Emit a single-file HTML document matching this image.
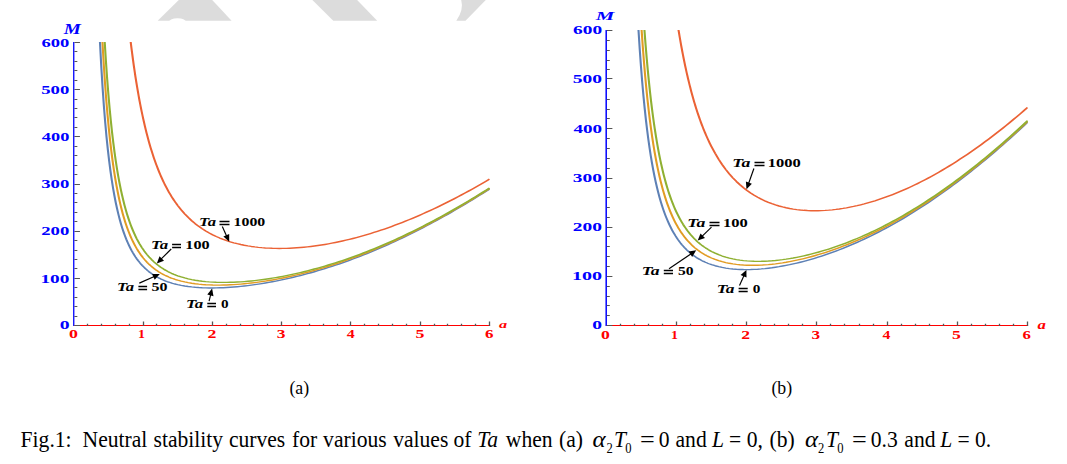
<!DOCTYPE html>
<html><head><meta charset="utf-8"><title>Fig.1</title>
<style>
html,body{margin:0;padding:0;background:#fff;}
body{width:1067px;height:464px;overflow:hidden;position:relative;font-family:"Liberation Serif",serif;}
svg{position:absolute;left:0;top:0;font-family:"Liberation Serif",serif;}
</style></head><body>
<svg width="1067" height="464" viewBox="0 0 1067 464">
<g fill="#dcdcdc">
<polygon points="178.8,0 212.2,0 231.6,20.7 157.7,20.7"/>
<polygon points="312.4,0 357.1,0 377.2,20.7 333.3,20.7"/>
<path d="M461.2,0 L485.8,0 L465.5,20.7 L456.3,20.7 Q464,10 461.2,0 Z"/>
</g>
<ellipse cx="177.5" cy="22.5" rx="9" ry="4.3" fill="#fff"/>
<clipPath id="cL"><rect x="73.75" y="42.00" width="416.10" height="283.50"/></clipPath>
<g fill="none" stroke-width="1.4" stroke-linejoin="round" clip-path="url(#cL)">
<g transform="translate(73.75,0) scale(1.5,1)">
<path d="M17.46,41.56 L18.34,66.23 L19.22,87.59 L20.10,106.21 L20.98,122.53 L21.85,136.92 L22.73,149.67 L23.61,161.02 L24.49,171.16 L25.37,180.26 L26.25,188.46 L27.13,195.86 L28.00,202.58 L28.88,208.69 L29.76,214.26 L30.64,219.35 L31.52,224.01 L32.40,228.30 L33.28,232.24 L34.16,235.88 L35.03,239.25 L35.91,242.36 L36.79,245.25 L37.67,247.93 L38.55,250.43 L39.43,252.75 L40.31,254.92 L41.18,256.95 L42.06,258.84 L42.94,260.62 L43.82,262.28 L44.70,263.84 L45.58,265.30 L46.46,266.68 L47.33,267.97 L48.21,269.19 L49.09,270.34 L49.97,271.42 L50.85,272.44 L51.73,273.40 L52.61,274.31 L53.48,275.17 L54.36,275.98 L55.24,276.75 L56.12,277.47 L57.00,278.16 L57.88,278.81 L58.76,279.42 L59.64,280.00 L60.51,280.55 L61.39,281.07 L62.27,281.56 L63.15,282.02 L64.03,282.46 L64.91,282.87 L65.79,283.27 L66.66,283.64 L67.54,283.98 L68.42,284.31 L69.30,284.62 L71.64,285.36 L73.97,285.98 L76.31,286.50 L78.64,286.93 L80.98,287.27 L83.32,287.54 L85.65,287.74 L87.99,287.87 L90.32,287.94 L92.66,287.95 L95.00,287.91 L97.33,287.82 L99.67,287.69 L102.00,287.51 L104.34,287.28 L106.68,287.02 L109.01,286.71 L111.35,286.37 L113.68,285.99 L116.02,285.58 L118.36,285.13 L120.69,284.65 L123.03,284.13 L125.36,283.58 L127.70,283.01 L130.03,282.39 L132.37,281.75 L134.71,281.08 L137.04,280.38 L139.38,279.64 L141.71,278.88 L144.05,278.09 L146.39,277.27 L148.72,276.42 L151.06,275.54 L153.39,274.63 L155.73,273.69 L158.07,272.73 L160.40,271.74 L162.74,270.72 L165.07,269.67 L167.41,268.59 L169.75,267.49 L172.08,266.35 L174.42,265.20 L176.75,264.01 L179.09,262.79 L181.43,261.55 L183.76,260.29 L186.10,258.99 L188.43,257.67 L190.77,256.32 L193.11,254.94 L195.44,253.54 L197.78,252.12 L200.11,250.66 L202.45,249.18 L204.79,247.68 L207.12,246.14 L209.46,244.59 L211.79,243.00 L214.13,241.40 L216.47,239.76 L218.80,238.10 L221.14,236.42 L223.47,234.71 L225.81,232.98 L228.14,231.23 L230.48,229.44 L232.82,227.64 L235.15,225.81 L237.49,223.96 L239.82,222.08 L242.16,220.18 L244.50,218.26 L246.83,216.31 L249.17,214.34 L251.50,212.35 L253.84,210.33 L256.18,208.30 L258.51,206.23 L260.85,204.15 L263.18,202.05 L265.52,199.92 L267.86,197.77 L270.19,195.60 L272.53,193.40 L274.86,191.19 L277.20,188.95" stroke="#5E81B5"/>
<path d="M19.12,41.56 L19.97,63.43 L20.82,82.68 L21.67,99.69 L22.52,114.82 L23.37,128.31 L24.22,140.41 L25.07,151.29 L25.92,161.11 L26.77,170.01 L27.62,178.09 L28.47,185.45 L29.33,192.18 L30.18,198.34 L31.03,204.00 L31.88,209.21 L32.73,214.01 L33.58,218.44 L34.43,222.55 L35.28,226.35 L36.13,229.89 L36.98,233.18 L37.83,236.24 L38.68,239.10 L39.53,241.78 L40.38,244.28 L41.23,246.62 L42.08,248.82 L42.93,250.88 L43.78,252.81 L44.63,254.64 L45.49,256.35 L46.34,257.97 L47.19,259.50 L48.04,260.93 L48.89,262.29 L49.74,263.58 L50.59,264.79 L51.44,265.94 L52.29,267.03 L53.14,268.06 L53.99,269.04 L54.84,269.97 L55.69,270.85 L56.54,271.68 L57.39,272.47 L58.24,273.23 L59.09,273.94 L59.94,274.62 L60.79,275.26 L61.65,275.87 L62.50,276.45 L63.35,277.01 L64.20,277.53 L65.05,278.03 L65.90,278.50 L66.75,278.95 L67.60,279.38 L68.45,279.78 L69.30,280.17 L71.64,281.12 L73.97,281.94 L76.31,282.64 L78.64,283.23 L80.98,283.73 L83.32,284.14 L85.65,284.46 L87.99,284.72 L90.32,284.90 L92.66,285.02 L95.00,285.08 L97.33,285.08 L99.67,285.03 L102.00,284.93 L104.34,284.79 L106.68,284.60 L109.01,284.36 L111.35,284.09 L113.68,283.77 L116.02,283.42 L118.36,283.03 L120.69,282.60 L123.03,282.14 L125.36,281.64 L127.70,281.11 L130.03,280.55 L132.37,279.95 L134.71,279.32 L137.04,278.66 L139.38,277.97 L141.71,277.24 L144.05,276.49 L146.39,275.70 L148.72,274.89 L151.06,274.05 L153.39,273.17 L155.73,272.27 L158.07,271.34 L160.40,270.37 L162.74,269.38 L165.07,268.36 L167.41,267.32 L169.75,266.24 L172.08,265.13 L174.42,264.00 L176.75,262.84 L179.09,261.65 L181.43,260.43 L183.76,259.19 L186.10,257.92 L188.43,256.62 L190.77,255.29 L193.11,253.94 L195.44,252.56 L197.78,251.15 L200.11,249.72 L202.45,248.26 L204.79,246.77 L207.12,245.26 L209.46,243.72 L211.79,242.15 L214.13,240.56 L216.47,238.94 L218.80,237.30 L221.14,235.64 L223.47,233.94 L225.81,232.23 L228.14,230.49 L230.48,228.72 L232.82,226.93 L235.15,225.11 L237.49,223.27 L239.82,221.41 L242.16,219.52 L244.50,217.61 L246.83,215.68 L249.17,213.72 L251.50,211.74 L253.84,209.73 L256.18,207.71 L258.51,205.66 L260.85,203.59 L263.18,201.49 L265.52,199.37 L267.86,197.23 L270.19,195.07 L272.53,192.89 L274.86,190.68 L277.20,188.45" stroke="#E19C24"/>
<path d="M20.62,41.56 L21.45,61.24 L22.27,78.78 L23.10,94.46 L23.92,108.55 L24.75,121.24 L25.57,132.73 L26.40,143.15 L27.22,152.63 L28.05,161.28 L28.87,169.20 L29.70,176.46 L30.52,183.14 L31.35,189.29 L32.17,194.97 L33.00,200.23 L33.82,205.10 L34.65,209.62 L35.47,213.83 L36.30,217.75 L37.12,221.40 L37.95,224.82 L38.77,228.01 L39.60,231.00 L40.42,233.81 L41.25,236.44 L42.07,238.92 L42.90,241.25 L43.72,243.45 L44.55,245.52 L45.37,247.47 L46.20,249.31 L47.02,251.06 L47.85,252.70 L48.67,254.27 L49.50,255.74 L50.32,257.15 L51.15,258.47 L51.97,259.74 L52.80,260.93 L53.62,262.07 L54.45,263.15 L55.27,264.18 L56.10,265.16 L56.92,266.09 L57.75,266.98 L58.57,267.82 L59.40,268.62 L60.22,269.39 L61.05,270.12 L61.87,270.81 L62.70,271.48 L63.52,272.11 L64.35,272.71 L65.17,273.29 L66.00,273.83 L66.82,274.35 L67.65,274.85 L68.47,275.33 L69.30,275.78 L71.64,276.94 L73.97,277.96 L76.31,278.83 L78.64,279.59 L80.98,280.23 L83.32,280.78 L85.65,281.23 L87.99,281.60 L90.32,281.90 L92.66,282.12 L95.00,282.28 L97.33,282.37 L99.67,282.41 L102.00,282.39 L104.34,282.32 L106.68,282.21 L109.01,282.04 L111.35,281.83 L113.68,281.58 L116.02,281.28 L118.36,280.95 L120.69,280.58 L123.03,280.17 L125.36,279.72 L127.70,279.23 L130.03,278.72 L132.37,278.16 L134.71,277.58 L137.04,276.96 L139.38,276.30 L141.71,275.62 L144.05,274.90 L146.39,274.15 L148.72,273.38 L151.06,272.56 L153.39,271.72 L155.73,270.85 L158.07,269.95 L160.40,269.02 L162.74,268.06 L165.07,267.07 L167.41,266.05 L169.75,265.00 L172.08,263.92 L174.42,262.81 L176.75,261.68 L179.09,260.51 L181.43,259.32 L183.76,258.10 L186.10,256.85 L188.43,255.57 L190.77,254.27 L193.11,252.94 L195.44,251.58 L197.78,250.19 L200.11,248.78 L202.45,247.33 L204.79,245.87 L207.12,244.37 L209.46,242.85 L211.79,241.30 L214.13,239.73 L216.47,238.13 L218.80,236.50 L221.14,234.85 L223.47,233.18 L225.81,231.47 L228.14,229.75 L230.48,228.00 L232.82,226.22 L235.15,224.42 L237.49,222.59 L239.82,220.74 L242.16,218.87 L244.50,216.97 L246.83,215.05 L249.17,213.10 L251.50,211.13 L253.84,209.14 L256.18,207.12 L258.51,205.08 L260.85,203.02 L263.18,200.93 L265.52,198.83 L267.86,196.70 L270.19,194.54 L272.53,192.37 L274.86,190.17 L277.20,187.95" stroke="#8FB032"/>
<path d="M37.93,41.56 L38.46,48.00 L39.00,54.18 L39.53,60.12 L40.06,65.82 L40.59,71.30 L41.12,76.56 L41.65,81.63 L42.19,86.50 L42.72,91.20 L43.25,95.72 L43.78,100.08 L44.31,104.28 L44.84,108.33 L45.38,112.24 L45.91,116.02 L46.44,119.67 L46.97,123.19 L47.50,126.59 L48.03,129.89 L48.57,133.07 L49.10,136.15 L49.63,139.13 L50.16,142.02 L50.69,144.82 L51.22,147.53 L51.76,150.15 L52.29,152.70 L52.82,155.16 L53.35,157.56 L53.88,159.88 L54.41,162.14 L54.95,164.33 L55.48,166.45 L56.01,168.52 L56.54,170.52 L57.07,172.47 L57.60,174.37 L58.14,176.21 L58.67,178.00 L59.20,179.75 L59.73,181.44 L60.26,183.09 L60.79,184.70 L61.33,186.26 L61.86,187.79 L62.39,189.27 L62.92,190.72 L63.45,192.13 L63.98,193.50 L64.52,194.84 L65.05,196.14 L65.58,197.41 L66.11,198.65 L66.64,199.86 L67.17,201.04 L67.71,202.19 L68.24,203.31 L68.77,204.41 L69.30,205.48 L71.64,209.89 L73.97,213.87 L76.31,217.46 L78.64,220.72 L80.98,223.67 L83.32,226.35 L85.65,228.78 L87.99,231.00 L90.32,233.02 L92.66,234.85 L95.00,236.52 L97.33,238.03 L99.67,239.41 L102.00,240.66 L104.34,241.78 L106.68,242.80 L109.01,243.71 L111.35,244.52 L113.68,245.25 L116.02,245.88 L118.36,246.44 L120.69,246.92 L123.03,247.33 L125.36,247.67 L127.70,247.94 L130.03,248.15 L132.37,248.30 L134.71,248.39 L137.04,248.43 L139.38,248.41 L141.71,248.34 L144.05,248.21 L146.39,248.04 L148.72,247.82 L151.06,247.55 L153.39,247.24 L155.73,246.88 L158.07,246.48 L160.40,246.03 L162.74,245.55 L165.07,245.02 L167.41,244.45 L169.75,243.84 L172.08,243.19 L174.42,242.50 L176.75,241.77 L179.09,241.01 L181.43,240.21 L183.76,239.37 L186.10,238.49 L188.43,237.58 L190.77,236.63 L193.11,235.64 L195.44,234.62 L197.78,233.57 L200.11,232.48 L202.45,231.35 L204.79,230.20 L207.12,229.01 L209.46,227.78 L211.79,226.52 L214.13,225.23 L216.47,223.91 L218.80,222.56 L221.14,221.17 L223.47,219.75 L225.81,218.31 L228.14,216.83 L230.48,215.32 L232.82,213.77 L235.15,212.20 L237.49,210.60 L239.82,208.97 L242.16,207.31 L244.50,205.63 L246.83,203.91 L249.17,202.16 L251.50,200.39 L253.84,198.59 L256.18,196.76 L258.51,194.90 L260.85,193.02 L263.18,191.11 L265.52,189.17 L267.86,187.21 L270.19,185.22 L272.53,183.20 L274.86,181.16 L277.20,179.09" stroke="#EB6235"/>
</g></g>
<line x1="73.75" y1="42.00" x2="73.75" y2="326.00" stroke="#0000ff" stroke-width="1.3"/>
<line x1="74.35" y1="325.50" x2="490.05" y2="325.50" stroke="#ff0000" stroke-width="1"/>
<path d="M74.35,325.50h5.6 M74.35,316.50h3.0 M74.35,306.50h3.0 M74.35,297.50h3.0 M74.35,287.50h3.0 M74.35,278.50h5.6 M74.35,268.50h3.0 M74.35,259.50h3.0 M74.35,250.50h3.0 M74.35,240.50h3.0 M74.35,231.50h5.6 M74.35,221.50h3.0 M74.35,212.50h3.0 M74.35,202.50h3.0 M74.35,193.50h3.0 M74.35,184.50h5.6 M74.35,174.50h3.0 M74.35,165.50h3.0 M74.35,155.50h3.0 M74.35,146.50h3.0 M74.35,136.50h5.6 M74.35,127.50h3.0 M74.35,117.50h3.0 M74.35,108.50h3.0 M74.35,99.50h3.0 M74.35,89.50h5.6 M74.35,80.50h3.0 M74.35,70.50h3.0 M74.35,61.50h3.0 M74.35,51.50h3.0 M74.35,42.50h5.6" stroke="#555" stroke-width="1" fill="none"/>
<path d="M87.50,326.00v-2.2 M101.50,326.00v-2.2 M115.50,326.00v-2.2 M129.50,326.00v-2.2 M143.50,326.00v-4.4 M156.50,326.00v-2.2 M170.50,326.00v-2.2 M184.50,326.00v-2.2 M198.50,326.00v-2.2 M212.50,326.00v-4.4 M226.50,326.00v-2.2 M240.50,326.00v-2.2 M253.50,326.00v-2.2 M267.50,326.00v-2.2 M281.50,326.00v-4.4 M295.50,326.00v-2.2 M309.50,326.00v-2.2 M323.50,326.00v-2.2 M337.50,326.00v-2.2 M350.50,326.00v-4.4 M364.50,326.00v-2.2 M378.50,326.00v-2.2 M392.50,326.00v-2.2 M406.50,326.00v-2.2 M420.50,326.00v-4.4 M434.50,326.00v-2.2 M447.50,326.00v-2.2 M461.50,326.00v-2.2 M475.50,326.00v-2.2 M489.50,326.00v-4.4" stroke="#555" stroke-width="1.3" fill="none"/>
<text transform="translate(60.50,329.00) scale(1.6198,1)" x="-0.49" y="0" font-size="12.2" font-weight="bold" fill="#0000ff">0</text>
<text transform="translate(42.00,282.63) scale(1.5799,1)" x="-0.98" y="0" font-size="12.2" font-weight="bold" fill="#0000ff">100</text>
<text transform="translate(42.00,235.47) scale(1.5354,1)" x="-0.49" y="0" font-size="12.2" font-weight="bold" fill="#0000ff">200</text>
<text transform="translate(42.00,188.30) scale(1.5354,1)" x="-0.49" y="0" font-size="12.2" font-weight="bold" fill="#0000ff">300</text>
<text transform="translate(42.00,141.13) scale(1.5037,1)" x="-0.12" y="0" font-size="12.2" font-weight="bold" fill="#0000ff">400</text>
<text transform="translate(42.00,93.97) scale(1.5354,1)" x="-0.49" y="0" font-size="12.2" font-weight="bold" fill="#0000ff">500</text>
<text transform="translate(42.00,46.80) scale(1.5247,1)" x="-0.37" y="0" font-size="12.2" font-weight="bold" fill="#0000ff">600</text>
<text transform="translate(69.60,338.00) scale(1.4518,1)" x="-0.49" y="0" font-size="12.3" font-weight="bold" fill="#ff0000">0</text>
<text transform="translate(139.15,338.00) scale(1.1426,1)" x="-0.98" y="0" font-size="12.3" font-weight="bold" fill="#ff0000">1</text>
<text transform="translate(208.20,338.00) scale(1.4518,1)" x="-0.49" y="0" font-size="12.3" font-weight="bold" fill="#ff0000">2</text>
<text transform="translate(277.50,338.00) scale(1.4180,1)" x="-0.49" y="0" font-size="12.3" font-weight="bold" fill="#ff0000">3</text>
<text transform="translate(346.80,338.00) scale(1.2974,1)" x="-0.12" y="0" font-size="12.3" font-weight="bold" fill="#ff0000">4</text>
<text transform="translate(416.10,338.00) scale(1.4518,1)" x="-0.49" y="0" font-size="12.3" font-weight="bold" fill="#ff0000">5</text>
<text transform="translate(485.40,338.00) scale(1.3858,1)" x="-0.37" y="0" font-size="12.3" font-weight="bold" fill="#ff0000">6</text>
<text transform="translate(63.60,33.80) scale(1.3748,1)" x="0.14" y="0" font-size="14.0" font-weight="bold" fill="#0000ff" font-style="italic">M</text>
<text transform="translate(499.10,327.90) scale(1.4822,1)" x="-0.11" y="0" font-size="11" font-weight="bold" fill="#ff0000" font-style="italic">a</text>
<text transform="translate(200.20,225.50) scale(1.3859,1)" x="-0.84" y="0" font-size="12.0" font-weight="bold" font-style="italic" fill="#000">Ta</text><path d="M219.5,221.50H229.5M219.5,224.50H229.5" stroke="#000" stroke-width="1.5" fill="none"/><text transform="translate(234.80,225.50) scale(1.3209,1)" x="-0.96" y="0" font-size="12.0" font-weight="bold" fill="#000">1000</text>
<text transform="translate(152.10,248.55) scale(1.4040,1)" x="-0.84" y="0" font-size="12.0" font-weight="bold" font-style="italic" fill="#000">Ta</text><path d="M172.1,244.50H181.0M172.1,247.50H181.0" stroke="#000" stroke-width="1.5" fill="none"/><text transform="translate(186.60,248.55) scale(1.3527,1)" x="-0.96" y="0" font-size="12.0" font-weight="bold" fill="#000">100</text>
<text transform="translate(118.20,290.60) scale(1.3859,1)" x="-0.84" y="0" font-size="12.0" font-weight="bold" font-style="italic" fill="#000">Ta</text><path d="M138.4,286.50H147.1M138.4,289.50H147.1" stroke="#000" stroke-width="1.5" fill="none"/><text transform="translate(152.20,290.60) scale(1.3315,1)" x="-0.48" y="0" font-size="12.0" font-weight="bold" fill="#000">50</text>
<text transform="translate(187.10,307.60) scale(1.4040,1)" x="-0.84" y="0" font-size="12.0" font-weight="bold" font-style="italic" fill="#000">Ta</text><path d="M207.3,303.50H216.0M207.3,306.50H216.0" stroke="#000" stroke-width="1.5" fill="none"/><text transform="translate(221.60,307.60) scale(1.2698,1)" x="-0.48" y="0" font-size="12.0" font-weight="bold" fill="#000">0</text>
<line x1="222.3" y1="226.4" x2="226.7" y2="236.2" stroke="#000" stroke-width="1.15"/><polygon points="229.2,241.7 223.4,236.6 229.2,234.0" fill="#000"/>
<line x1="171.2" y1="249.0" x2="161.0" y2="259.2" stroke="#000" stroke-width="1.15"/><polygon points="156.8,263.5 159.5,256.3 164.0,260.8" fill="#000"/>
<line x1="139.3" y1="283.1" x2="154.3" y2="276.5" stroke="#000" stroke-width="1.15"/><polygon points="159.8,274.1 154.7,279.8 152.1,274.0" fill="#000"/>
<line x1="209.1" y1="301.1" x2="210.7" y2="294.4" stroke="#000" stroke-width="1.15"/><polygon points="212.1,288.6 213.5,296.2 207.3,294.6" fill="#000"/>
<clipPath id="cR"><rect x="606.2" y="30.00" width="421.68" height="295.50"/></clipPath>
<g fill="none" stroke-width="1.4" stroke-linejoin="round" clip-path="url(#cR)">
<g transform="translate(606.2,0) scale(1.5,1)">
<path d="M21.51,29.52 L22.33,48.80 L23.16,66.05 L23.98,81.55 L24.81,95.51 L25.64,108.14 L26.46,119.60 L27.29,130.03 L28.11,139.55 L28.94,148.25 L29.76,156.24 L30.59,163.58 L31.42,170.34 L32.24,176.58 L33.07,182.35 L33.89,187.70 L34.72,192.67 L35.55,197.28 L36.37,201.58 L37.20,205.59 L38.02,209.33 L38.85,212.83 L39.67,216.10 L40.50,219.17 L41.33,222.05 L42.15,224.76 L42.98,227.30 L43.80,229.69 L44.63,231.95 L45.46,234.07 L46.28,236.08 L47.11,237.97 L47.93,239.76 L48.76,241.45 L49.58,243.05 L50.41,244.56 L51.24,245.99 L52.06,247.35 L52.89,248.64 L53.71,249.86 L54.54,251.02 L55.37,252.12 L56.19,253.16 L57.02,254.15 L57.84,255.09 L58.67,255.98 L59.49,256.83 L60.32,257.63 L61.15,258.40 L61.97,259.12 L62.80,259.81 L63.62,260.47 L64.45,261.09 L65.28,261.68 L66.10,262.24 L66.93,262.77 L67.75,263.27 L68.58,263.75 L69.40,264.20 L70.23,264.63 L72.60,265.73 L74.96,266.65 L77.33,267.43 L79.70,268.07 L82.07,268.58 L84.43,268.97 L86.80,269.26 L89.17,269.46 L91.54,269.56 L93.90,269.58 L96.27,269.52 L98.64,269.39 L101.00,269.19 L103.37,268.92 L105.74,268.59 L108.11,268.19 L110.47,267.74 L112.84,267.23 L115.21,266.67 L117.58,266.05 L119.94,265.38 L122.31,264.67 L124.68,263.90 L127.05,263.08 L129.41,262.22 L131.78,261.31 L134.15,260.35 L136.51,259.35 L138.88,258.30 L141.25,257.21 L143.62,256.08 L145.98,254.90 L148.35,253.67 L150.72,252.41 L153.09,251.10 L155.45,249.75 L157.82,248.35 L160.19,246.92 L162.55,245.44 L164.92,243.92 L167.29,242.36 L169.66,240.75 L172.02,239.11 L174.39,237.42 L176.76,235.70 L179.13,233.93 L181.49,232.12 L183.86,230.27 L186.23,228.39 L188.60,226.46 L190.96,224.49 L193.33,222.48 L195.70,220.43 L198.06,218.35 L200.43,216.22 L202.80,214.05 L205.17,211.85 L207.53,209.61 L209.90,207.33 L212.27,205.01 L214.64,202.65 L217.00,200.26 L219.37,197.82 L221.74,195.36 L224.10,192.85 L226.47,190.31 L228.84,187.73 L231.21,185.11 L233.57,182.46 L235.94,179.77 L238.31,177.05 L240.68,174.29 L243.04,171.49 L245.41,168.66 L247.78,165.80 L250.15,162.90 L252.51,159.97 L254.88,157.00 L257.25,154.00 L259.61,150.97 L261.98,147.90 L264.35,144.79 L266.72,141.66 L269.08,138.49 L271.45,135.29 L273.82,132.06 L276.19,128.79 L278.55,125.49 L280.92,122.16" stroke="#5E81B5"/>
<path d="M23.58,29.52 L24.37,46.33 L25.16,61.58 L25.95,75.45 L26.74,88.10 L27.53,99.68 L28.32,110.29 L29.11,120.04 L29.91,129.02 L30.70,137.31 L31.49,144.98 L32.28,152.08 L33.07,158.68 L33.86,164.81 L34.65,170.52 L35.44,175.85 L36.23,180.82 L37.02,185.48 L37.81,189.84 L38.60,193.92 L39.39,197.76 L40.18,201.37 L40.97,204.76 L41.77,207.95 L42.56,210.97 L43.35,213.81 L44.14,216.49 L44.93,219.03 L45.72,221.43 L46.51,223.70 L47.30,225.86 L48.09,227.90 L48.88,229.83 L49.67,231.67 L50.46,233.41 L51.25,235.07 L52.04,236.65 L52.84,238.15 L53.63,239.57 L54.42,240.93 L55.21,242.22 L56.00,243.45 L56.79,244.63 L57.58,245.75 L58.37,246.81 L59.16,247.83 L59.95,248.80 L60.74,249.72 L61.53,250.60 L62.32,251.44 L63.11,252.25 L63.90,253.01 L64.70,253.74 L65.49,254.44 L66.28,255.10 L67.07,255.74 L67.86,256.34 L68.65,256.92 L69.44,257.47 L70.23,257.99 L72.60,259.41 L74.96,260.63 L77.33,261.68 L79.70,262.56 L82.07,263.30 L84.43,263.91 L86.80,264.39 L89.17,264.77 L91.54,265.04 L93.90,265.22 L96.27,265.31 L98.64,265.31 L101.00,265.24 L103.37,265.09 L105.74,264.88 L108.11,264.59 L110.47,264.24 L112.84,263.83 L115.21,263.36 L117.58,262.84 L119.94,262.26 L122.31,261.62 L124.68,260.93 L127.05,260.19 L129.41,259.40 L131.78,258.56 L134.15,257.67 L136.51,256.73 L138.88,255.75 L141.25,254.72 L143.62,253.64 L145.98,252.52 L148.35,251.35 L150.72,250.13 L153.09,248.88 L155.45,247.58 L157.82,246.23 L160.19,244.84 L162.55,243.41 L164.92,241.93 L167.29,240.41 L169.66,238.85 L172.02,237.25 L174.39,235.61 L176.76,233.92 L179.13,232.19 L181.49,230.42 L183.86,228.61 L186.23,226.75 L188.60,224.86 L190.96,222.92 L193.33,220.95 L195.70,218.93 L198.06,216.88 L200.43,214.78 L202.80,212.65 L205.17,210.47 L207.53,208.26 L209.90,206.00 L212.27,203.71 L214.64,201.38 L217.00,199.01 L219.37,196.61 L221.74,194.16 L224.10,191.68 L226.47,189.16 L228.84,186.60 L231.21,184.01 L233.57,181.38 L235.94,178.71 L238.31,176.01 L240.68,173.27 L243.04,170.50 L245.41,167.68 L247.78,164.84 L250.15,161.96 L252.51,159.04 L254.88,156.09 L257.25,153.11 L259.61,150.09 L261.98,147.04 L264.35,143.95 L266.72,140.83 L269.08,137.68 L271.45,134.49 L273.82,131.27 L276.19,128.02 L278.55,124.73 L280.92,121.41" stroke="#E19C24"/>
<path d="M25.47,29.52 L26.23,44.40 L26.99,58.05 L27.75,70.59 L28.51,82.13 L29.26,92.78 L30.02,102.63 L30.78,111.75 L31.54,120.22 L32.30,128.09 L33.06,135.42 L33.82,142.26 L34.57,148.65 L35.33,154.62 L36.09,160.22 L36.85,165.47 L37.61,170.40 L38.37,175.03 L39.13,179.39 L39.88,183.50 L40.64,187.37 L41.40,191.03 L42.16,194.49 L42.92,197.76 L43.68,200.85 L44.44,203.78 L45.20,206.56 L45.95,209.20 L46.71,211.70 L47.47,214.08 L48.23,216.34 L48.99,218.49 L49.75,220.54 L50.51,222.49 L51.26,224.35 L52.02,226.12 L52.78,227.81 L53.54,229.42 L54.30,230.96 L55.06,232.42 L55.82,233.83 L56.57,235.17 L57.33,236.45 L58.09,237.68 L58.85,238.85 L59.61,239.97 L60.37,241.04 L61.13,242.07 L61.89,243.05 L62.64,243.99 L63.40,244.89 L64.16,245.75 L64.92,246.58 L65.68,247.37 L66.44,248.13 L67.20,248.85 L67.95,249.55 L68.71,250.21 L69.47,250.85 L70.23,251.46 L72.60,253.19 L74.96,254.70 L77.33,256.01 L79.70,257.13 L82.07,258.09 L84.43,258.90 L86.80,259.58 L89.17,260.13 L91.54,260.57 L93.90,260.90 L96.27,261.14 L98.64,261.28 L101.00,261.33 L103.37,261.31 L105.74,261.20 L108.11,261.03 L110.47,260.78 L112.84,260.47 L115.21,260.09 L117.58,259.66 L119.94,259.16 L122.31,258.60 L124.68,257.99 L127.05,257.32 L129.41,256.60 L131.78,255.83 L134.15,255.01 L136.51,254.14 L138.88,253.21 L141.25,252.24 L143.62,251.22 L145.98,250.15 L148.35,249.04 L150.72,247.88 L153.09,246.67 L155.45,245.42 L157.82,244.12 L160.19,242.78 L162.55,241.39 L164.92,239.96 L167.29,238.49 L169.66,236.97 L172.02,235.40 L174.39,233.80 L176.76,232.15 L179.13,230.46 L181.49,228.72 L183.86,226.95 L186.23,225.13 L188.60,223.27 L190.96,221.37 L193.33,219.43 L195.70,217.44 L198.06,215.42 L200.43,213.35 L202.80,211.25 L205.17,209.10 L207.53,206.91 L209.90,204.69 L212.27,202.42 L214.64,200.12 L217.00,197.77 L219.37,195.39 L221.74,192.97 L224.10,190.51 L226.47,188.02 L228.84,185.48 L231.21,182.91 L233.57,180.30 L235.94,177.66 L238.31,174.97 L240.68,172.25 L243.04,169.50 L245.41,166.71 L247.78,163.88 L250.15,161.02 L252.51,158.12 L254.88,155.19 L257.25,152.22 L259.61,149.22 L261.98,146.18 L264.35,143.11 L266.72,140.00 L269.08,136.87 L271.45,133.69 L273.82,130.49 L276.19,127.25 L278.55,123.98 L280.92,120.67" stroke="#8FB032"/>
<path d="M48.16,29.52 L48.54,32.93 L48.91,36.27 L49.29,39.53 L49.66,42.72 L50.03,45.83 L50.41,48.88 L50.78,51.86 L51.16,54.77 L51.53,57.62 L51.90,60.41 L52.28,63.14 L52.65,65.81 L53.03,68.42 L53.40,70.98 L53.77,73.49 L54.15,75.94 L54.52,78.34 L54.90,80.69 L55.27,83.00 L55.64,85.25 L56.02,87.47 L56.39,89.63 L56.77,91.76 L57.14,93.84 L57.51,95.88 L57.89,97.88 L58.26,99.85 L58.64,101.77 L59.01,103.66 L59.38,105.51 L59.76,107.33 L60.13,109.11 L60.51,110.86 L60.88,112.57 L61.25,114.26 L61.63,115.91 L62.00,117.53 L62.38,119.12 L62.75,120.69 L63.12,122.22 L63.50,123.73 L63.87,125.21 L64.25,126.66 L64.62,128.09 L64.99,129.50 L65.37,130.87 L65.74,132.23 L66.12,133.56 L66.49,134.87 L66.86,136.15 L67.24,137.41 L67.61,138.65 L67.99,139.87 L68.36,141.07 L68.73,142.25 L69.11,143.41 L69.48,144.55 L69.86,145.67 L70.23,146.77 L72.60,153.34 L74.96,159.26 L77.33,164.62 L79.70,169.46 L82.07,173.86 L84.43,177.85 L86.80,181.48 L89.17,184.78 L91.54,187.78 L93.90,190.51 L96.27,192.99 L98.64,195.25 L101.00,197.30 L103.37,199.15 L105.74,200.83 L108.11,202.34 L110.47,203.70 L112.84,204.91 L115.21,205.99 L117.58,206.94 L119.94,207.77 L122.31,208.49 L124.68,209.09 L127.05,209.60 L129.41,210.01 L131.78,210.32 L134.15,210.54 L136.51,210.68 L138.88,210.73 L141.25,210.70 L143.62,210.59 L145.98,210.41 L148.35,210.15 L150.72,209.82 L153.09,209.43 L155.45,208.96 L157.82,208.43 L160.19,207.83 L162.55,207.16 L164.92,206.44 L167.29,205.65 L169.66,204.80 L172.02,203.90 L174.39,202.93 L176.76,201.90 L179.13,200.82 L181.49,199.68 L183.86,198.48 L186.23,197.23 L188.60,195.93 L190.96,194.57 L193.33,193.15 L195.70,191.69 L198.06,190.17 L200.43,188.60 L202.80,186.98 L205.17,185.30 L207.53,183.58 L209.90,181.81 L212.27,179.98 L214.64,178.11 L217.00,176.19 L219.37,174.22 L221.74,172.20 L224.10,170.14 L226.47,168.03 L228.84,165.87 L231.21,163.67 L233.57,161.42 L235.94,159.12 L238.31,156.79 L240.68,154.40 L243.04,151.98 L245.41,149.50 L247.78,146.99 L250.15,144.43 L252.51,141.83 L254.88,139.19 L257.25,136.51 L259.61,133.79 L261.98,131.02 L264.35,128.22 L266.72,125.37 L269.08,122.49 L271.45,119.56 L273.82,116.60 L276.19,113.59 L278.55,110.55 L280.92,107.47" stroke="#EB6235"/>
</g></g>
<line x1="606.20" y1="30.00" x2="606.20" y2="326.00" stroke="#0000ff" stroke-width="1.5"/>
<line x1="606.80" y1="325.50" x2="1028.08" y2="325.50" stroke="#ff0000" stroke-width="1"/>
<path d="M606.80,325.50h5.6 M606.80,315.50h3.0 M606.80,305.50h3.0 M606.80,296.50h3.0 M606.80,286.50h3.0 M606.80,276.50h5.6 M606.80,266.50h3.0 M606.80,256.50h3.0 M606.80,246.50h3.0 M606.80,236.50h3.0 M606.80,227.50h5.6 M606.80,217.50h3.0 M606.80,207.50h3.0 M606.80,197.50h3.0 M606.80,187.50h3.0 M606.80,178.50h5.6 M606.80,168.50h3.0 M606.80,158.50h3.0 M606.80,148.50h3.0 M606.80,138.50h3.0 M606.80,128.50h5.6 M606.80,118.50h3.0 M606.80,109.50h3.0 M606.80,99.50h3.0 M606.80,88.50h3.0 M606.80,78.50h5.6 M606.80,69.50h3.0 M606.80,60.50h3.0 M606.80,50.50h3.0 M606.80,40.50h3.0 M606.80,30.50h5.6" stroke="#555" stroke-width="1" fill="none"/>
<path d="M620.50,326.00v-2.2 M634.50,326.00v-2.2 M648.50,326.00v-2.2 M662.50,326.00v-2.2 M676.50,326.00v-4.4 M690.50,326.00v-2.2 M704.50,326.00v-2.2 M718.50,326.00v-2.2 M732.50,326.00v-2.2 M746.50,326.00v-4.4 M760.50,326.00v-2.2 M774.50,326.00v-2.2 M788.50,326.00v-2.2 M802.50,326.00v-2.2 M816.50,326.00v-4.4 M830.50,326.00v-2.2 M844.50,326.00v-2.2 M859.50,326.00v-2.2 M873.50,326.00v-2.2 M887.50,326.00v-4.4 M901.50,326.00v-2.2 M915.50,326.00v-2.2 M929.50,326.00v-2.2 M943.50,326.00v-2.2 M957.50,326.00v-4.4 M971.50,326.00v-2.2 M985.50,326.00v-2.2 M999.50,326.00v-2.2 M1013.50,326.00v-2.2 M1027.50,326.00v-4.4" stroke="#555" stroke-width="1.3" fill="none"/>
<text transform="translate(593.00,329.30) scale(1.5619,1)" x="-0.50" y="0" font-size="12.5" font-weight="bold" fill="#0000ff">0</text>
<text transform="translate(573.60,280.13) scale(1.6058,1)" x="-1.00" y="0" font-size="12.5" font-weight="bold" fill="#0000ff">100</text>
<text transform="translate(573.60,230.97) scale(1.5606,1)" x="-0.50" y="0" font-size="12.5" font-weight="bold" fill="#0000ff">200</text>
<text transform="translate(573.60,181.80) scale(1.5606,1)" x="-0.50" y="0" font-size="12.5" font-weight="bold" fill="#0000ff">300</text>
<text transform="translate(573.60,132.63) scale(1.5283,1)" x="-0.12" y="0" font-size="12.5" font-weight="bold" fill="#0000ff">400</text>
<text transform="translate(573.60,83.47) scale(1.5606,1)" x="-0.50" y="0" font-size="12.5" font-weight="bold" fill="#0000ff">500</text>
<text transform="translate(573.60,34.30) scale(1.5497,1)" x="-0.38" y="0" font-size="12.5" font-weight="bold" fill="#0000ff">600</text>
<text transform="translate(601.60,338.90) scale(1.4324,1)" x="-0.49" y="0" font-size="12.3" font-weight="bold" fill="#ff0000">0</text>
<text transform="translate(672.03,338.90) scale(1.1426,1)" x="-0.98" y="0" font-size="12.3" font-weight="bold" fill="#ff0000">1</text>
<text transform="translate(742.06,338.90) scale(1.4324,1)" x="-0.49" y="0" font-size="12.3" font-weight="bold" fill="#ff0000">2</text>
<text transform="translate(812.29,338.90) scale(1.3991,1)" x="-0.49" y="0" font-size="12.3" font-weight="bold" fill="#ff0000">3</text>
<text transform="translate(882.52,338.90) scale(1.2801,1)" x="-0.12" y="0" font-size="12.3" font-weight="bold" fill="#ff0000">4</text>
<text transform="translate(952.75,338.90) scale(1.4324,1)" x="-0.49" y="0" font-size="12.3" font-weight="bold" fill="#ff0000">5</text>
<text transform="translate(1022.98,338.90) scale(1.3673,1)" x="-0.37" y="0" font-size="12.3" font-weight="bold" fill="#ff0000">6</text>
<text transform="translate(595.60,19.50) scale(1.6046,1)" x="0.13" y="0" font-size="13.0" font-weight="bold" fill="#0000ff" font-style="italic">M</text>
<text transform="translate(1037.70,329.00) scale(1.3949,1)" x="-0.12" y="0" font-size="12" font-weight="bold" fill="#ff0000" font-style="italic">a</text>
<text transform="translate(733.60,166.55) scale(1.4174,1)" x="-0.88" y="0" font-size="12.5" font-weight="bold" font-style="italic" fill="#000">Ta</text><path d="M754.5,162.50H764.5M754.5,165.50H764.5" stroke="#000" stroke-width="1.5" fill="none"/><text transform="translate(769.00,166.55) scale(1.3191,1)" x="-1.00" y="0" font-size="12.5" font-weight="bold" fill="#000">1000</text>
<text transform="translate(688.60,226.55) scale(1.4174,1)" x="-0.88" y="0" font-size="12.5" font-weight="bold" font-style="italic" fill="#000">Ta</text><path d="M709.5,222.50H719.5M709.5,225.50H719.5" stroke="#000" stroke-width="1.5" fill="none"/><text transform="translate(724.40,226.55) scale(1.3217,1)" x="-1.00" y="0" font-size="12.5" font-weight="bold" fill="#000">100</text>
<text transform="translate(642.90,274.75) scale(1.4087,1)" x="-0.88" y="0" font-size="12.5" font-weight="bold" font-style="italic" fill="#000">Ta</text><path d="M663.8,270.50H673.0M663.8,273.50H673.0" stroke="#000" stroke-width="1.5" fill="none"/><text transform="translate(678.50,274.75) scale(1.2435,1)" x="-0.50" y="0" font-size="12.5" font-weight="bold" fill="#000">50</text>
<text transform="translate(717.90,292.60) scale(1.3913,1)" x="-0.88" y="0" font-size="12.5" font-weight="bold" font-style="italic" fill="#000">Ta</text><path d="M738.6,288.50H747.7M738.6,291.50H747.7" stroke="#000" stroke-width="1.5" fill="none"/><text transform="translate(753.30,292.60) scale(1.2190,1)" x="-0.50" y="0" font-size="12.5" font-weight="bold" fill="#000">0</text>
<line x1="753.9" y1="168.5" x2="748.6" y2="183.5" stroke="#000" stroke-width="1.15"/><polygon points="746.5,189.2 745.9,181.5 751.9,183.7" fill="#000"/>
<line x1="711.5" y1="227.2" x2="702.0" y2="236.4" stroke="#000" stroke-width="1.15"/><polygon points="697.7,240.6 700.5,233.4 705.0,238.0" fill="#000"/>
<line x1="669.0" y1="268.7" x2="691.2" y2="253.7" stroke="#000" stroke-width="1.15"/><polygon points="696.2,250.3 692.2,256.9 688.6,251.6" fill="#000"/>
<line x1="739.5" y1="285.4" x2="744.0" y2="275.4" stroke="#000" stroke-width="1.15"/><polygon points="746.4,269.9 746.5,277.6 740.6,275.0" fill="#000"/>
<g fill="#000" xml:space="preserve">
<text transform="translate(20.6,446.6) scale(1,1.08)" font-size="21.6">Fig.1:</text>
<text transform="translate(82.6,446.6) scale(1,1.08)" font-size="21.6">Neutral</text>
<text transform="translate(153.5,446.6) scale(1,1.08)" font-size="21.6">stability</text>
<text transform="translate(228.9,446.6) scale(1,1.08)" font-size="21.6">curves</text>
<text transform="translate(292.0,446.6) scale(1,1.08)" font-size="21.6">for</text>
<text transform="translate(323.1,446.6) scale(1,1.08)" font-size="21.6">various</text>
<text transform="translate(393.2,446.6) scale(1,1.08)" font-size="21.6">values</text>
<text transform="translate(453.4,446.6) scale(1,1.08)" font-size="21.6">of</text>
<text transform="translate(477.2,446.6) scale(1,1.08)" font-size="21.6" font-style="italic">Ta</text>
<text transform="translate(505.8,446.6) scale(1,1.08)" font-size="21.6">when</text>
<text transform="translate(559.1,446.6) scale(1,1.08)" font-size="21.6">(a)</text>
<text transform="translate(593.30,446.60) scale(1.1529,1.08)" x="-0.65" y="0" font-size="21.6" font-style="italic">&#945;</text>
<text transform="translate(606.4,452.9) scale(1,1.08)" font-size="12.6">2</text>
<text transform="translate(614.0,446.6) scale(1,1.08)" font-size="21.6" font-style="italic">T</text>
<text transform="translate(625.3,452.9) scale(1,1.08)" font-size="12.6">0</text>
<text transform="translate(641.40,446.60) scale(1.2116,1.08)" x="-1.08" y="0" font-size="21.6" >=</text>
<text transform="translate(658.8,446.6) scale(1,1.08)" font-size="21.6">0</text>
<text transform="translate(675.5,446.6) scale(1,1.08)" font-size="21.6">and</text>
<text transform="translate(711.9,446.6) scale(1,1.08)" font-size="21.6" font-style="italic">L</text>
<text transform="translate(729.1,446.6) scale(1,1.08)" font-size="21.6">= 0,</text>
<text transform="translate(769.6,446.6) scale(1,1.08)" font-size="21.6">(b)</text>
<text transform="translate(805.70,446.60) scale(1.1529,1.08)" x="-0.65" y="0" font-size="21.6" font-style="italic">&#945;</text>
<text transform="translate(818.0,452.9) scale(1,1.08)" font-size="12.6">2</text>
<text transform="translate(825.9,446.6) scale(1,1.08)" font-size="21.6" font-style="italic">T</text>
<text transform="translate(837.3,452.9) scale(1,1.08)" font-size="12.6">0</text>
<text transform="translate(853.40,446.60) scale(1.2116,1.08)" x="-1.08" y="0" font-size="21.6" >=</text>
<text transform="translate(870.7,446.6) scale(1,1.08)" font-size="21.6">0.3</text>
<text transform="translate(904.3,446.6) scale(1,1.08)" font-size="21.6">and</text>
<text transform="translate(940.3,446.6) scale(1,1.08)" font-size="21.6" font-style="italic">L</text>
<text transform="translate(957.5,446.6) scale(1,1.08)" font-size="21.6">= 0.</text>
<text transform="translate(289.4,393.7) scale(1,1.03)" font-size="17.8">(a)</text>
<text transform="translate(771.4,393.7) scale(1,1.03)" font-size="17.8">(b)</text>
</g>
</svg>
</body></html>
